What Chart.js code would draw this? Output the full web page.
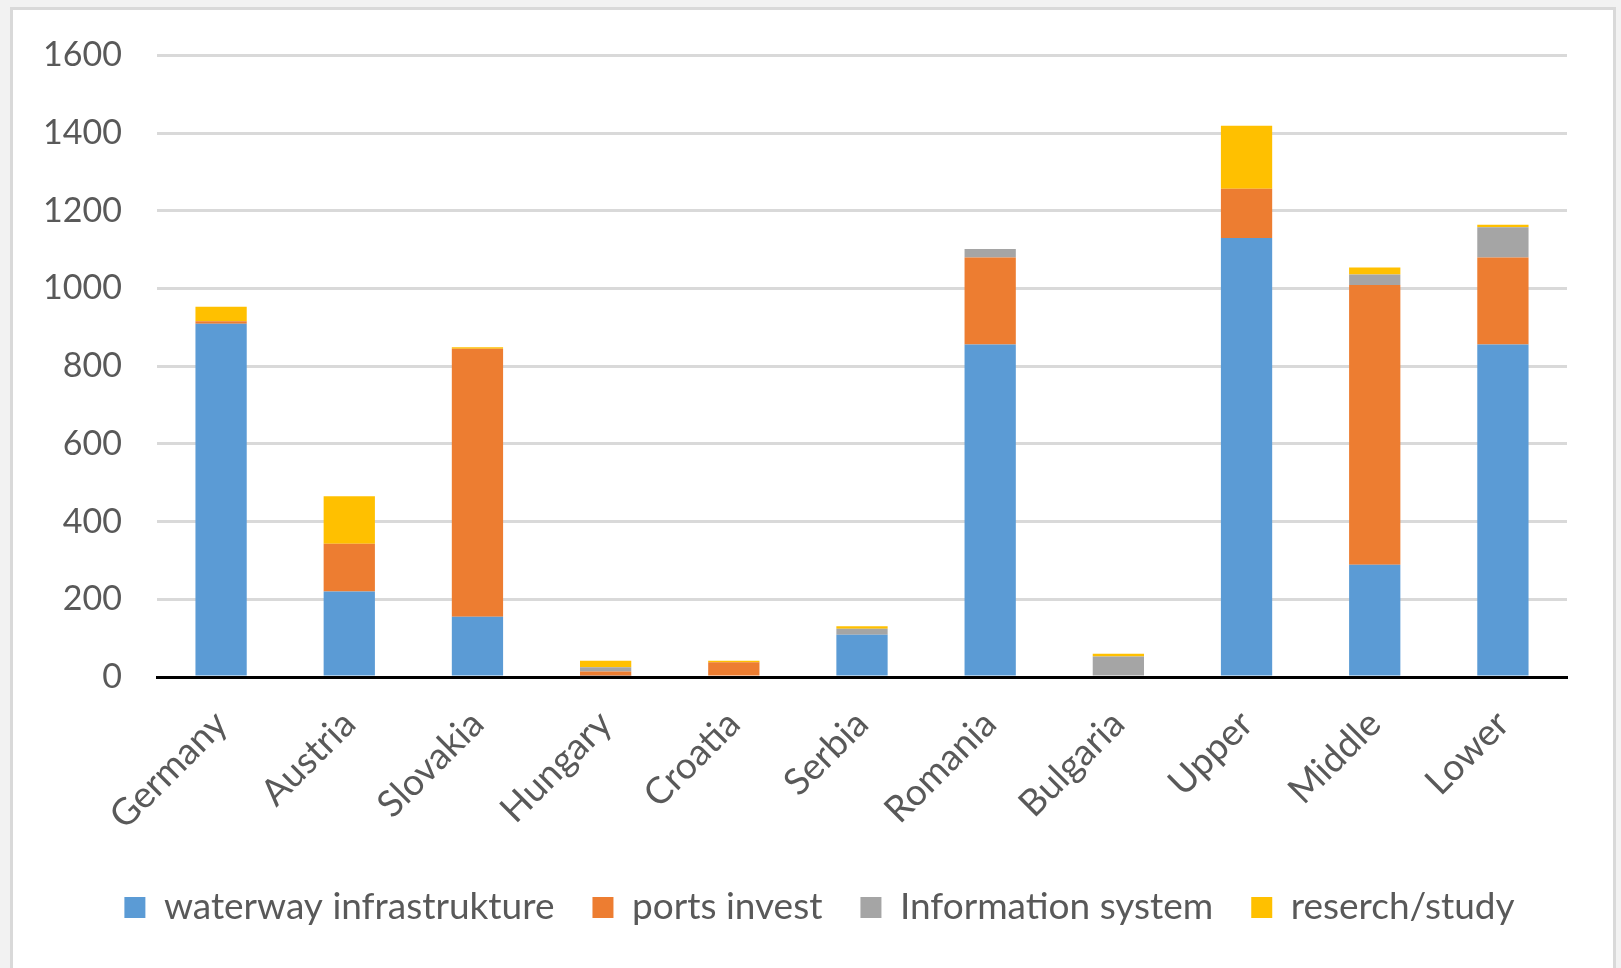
<!DOCTYPE html>
<html>
<head>
<meta charset="utf-8">
<script src="https://cdn.jsdelivr.net/npm/chart.js@4"></script>
<style>
	html, body { margin: 0; padding: 0; background: #f2f2f2; }
	#frame {
		position: absolute; left: 10px; top: 7px; width: 1600px; height: 958px;
		background: #fff; border: 3px solid #d9d9d9;
	}
	#wrap { position: absolute; left: 0; top: 0; width: 1621px; height: 968px; }
</style>
</head>
<body>
<div id="frame"></div>
<div id="wrap"><canvas id="chart" width="1621" height="968"></canvas></div>
<script>
const regions = ['Germany', 'Austria', 'Slovakia', 'Hungary', 'Croatia', 'Serbia', 'Romania', 'Bulgaria', 'Upper', 'Middle', 'Lower'];
const waterway = [909, 220, 155, 3, 0, 109, 856, 0, 1130, 289, 856];
const ports = [7, 123, 690, 11, 38, 0, 224, 0, 127, 720, 224];
const infoSystem = [0, 0, 0, 11, 0, 15, 22, 53, 0, 27, 78];
const research = [37, 122, 4, 17, 4, 7, 0, 7, 162, 18, 6];
const yTicks = [0, 200, 400, 600, 800, 1000, 1200, 1400, 1600];

const textColor = '#595959';
const fontFamily = 'Lato, "Open Sans", sans-serif';

const ds = (label, data, color) => ({
	label: label,
	data: data,
	backgroundColor: color,
	barPercentage: 0.4,
	categoryPercentage: 1,
});

// nudge the legend to where it sits in the original
const legendShift = {
	id: 'legendShift',
	afterLayout(chart) {
		const lg = chart.legend;
		lg.left += 36;
		lg.right += 36;
		lg.top -= 12;
		lg.bottom -= 12;
	},
};

const ctx = document.getElementById('chart');
new Chart(ctx, {
	type: 'bar',
	data: {
		labels: regions,
		datasets: [
			ds('waterway infrastrukture', waterway, '#5B9BD5'),
			ds('ports invest', ports, '#ED7D31'),
			ds('Information system', infoSystem, '#A5A5A5'),
			ds('reserch/study', research, '#FFC000'),
		],
	},
	plugins: [legendShift],
	options: {
		responsive: false,
		animation: false,
		devicePixelRatio: 1,
		layout: { padding: { left: 0, right: 54, top: 40, bottom: 20 } },
		plugins: {
			tooltip: { enabled: false },
			legend: {
				position: 'bottom',
				labels: {
					color: textColor,
					font: { family: fontFamily, size: 37 },
					boxWidth: 21,
					boxHeight: 21,
					padding: 38,
				},
			},
		},
		scales: {
			x: {
				stacked: true,
				grid: { display: false, drawTicks: false },
				border: { color: '#000', width: 3 },
				ticks: {
					color: textColor,
					font: { family: fontFamily, size: 37 },
					minRotation: 45,
					maxRotation: 45,
					padding: 25,
				},
			},
			y: {
				stacked: true,
				min: 0,
				max: 1600,
				afterBuildTicks: (axis) => {
					axis.ticks = yTicks.map((v) => ({ value: v }));
				},
				afterFit: (axis) => {
					axis.width = 157;
				},
				grid: { color: '#d9d9d9', lineWidth: 3, drawTicks: false },
				border: { display: false },
				ticks: {
					color: textColor,
					font: { family: fontFamily, size: 34 },
					padding: 35,
					callback: (v) => String(v),
				},
			},
		},
	},
});
</script>
</body>
</html>
